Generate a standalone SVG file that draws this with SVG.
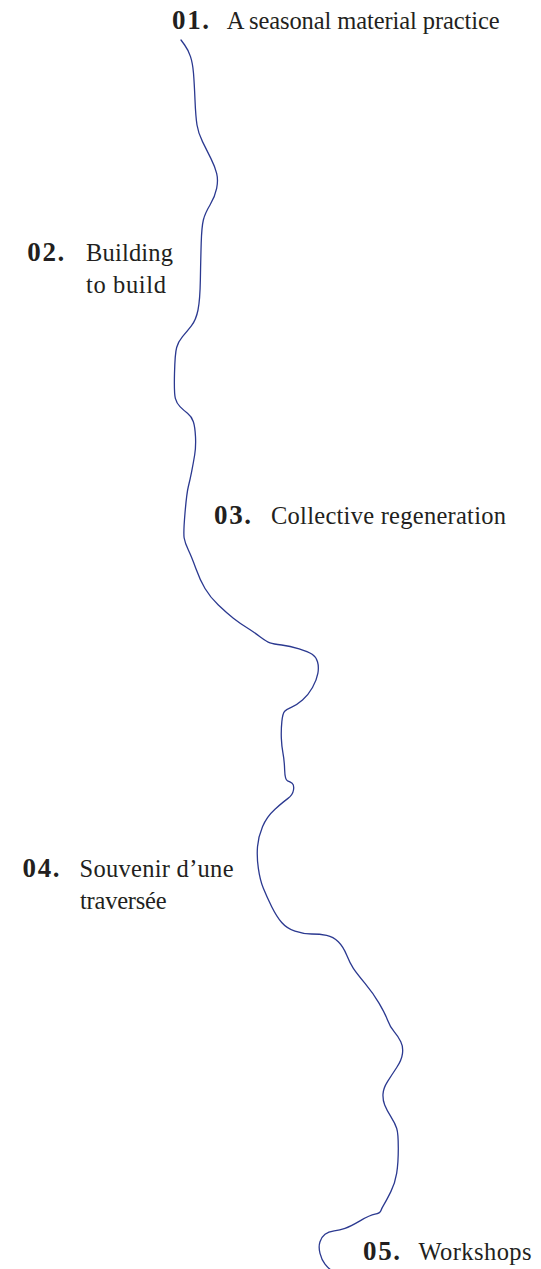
<svg xmlns="http://www.w3.org/2000/svg" width="541" height="1269" viewBox="0 0 541 1269">
<style>
.num{font-family:"Liberation Serif","Times New Roman",serif;font-weight:bold;font-size:27px;fill:#231f20}
.lbl{font-family:"Liberation Serif","Times New Roman",serif;font-size:24.5px;fill:#231f20}
.river{fill:none;stroke:#2b3990;stroke-width:1.3;stroke-linecap:round;stroke-linejoin:round}
</style>
<rect width="541" height="1269" fill="#ffffff"/>
<g id="connectors">
<path class="river" d="M181,40 L184.65,45 Q188.3,50 190.5,56.65 Q192.7,63.3 193.5,73.3 Q194.3,83.3 195,100 Q195.7,116.7 197,125 Q198.3,133.3 202.5,141.65 Q206.7,150 210.85,158.35 Q215,166.7 216.65,173.35 Q218.3,180 216.65,188.35 Q215,196.7 210,205 Q205,213.3 203.35,220 Q201.7,226.7 201.2,243.35 Q200.7,260 200.35,280 Q200,300 198,310 Q196,320 191.35,325.85 Q186.7,331.7 182.5,336.7 Q178.3,341.7 176.65,347.5 Q175,353.3 174.5,373.3 Q174,393.3 175.35,398.3 Q176.7,403.3 180,406.65 Q183.3,410 187.5,413.35 Q191.7,416.7 193.35,421.7 Q195,426.7 195.5,436.7 Q196,446.7 194.65,455 Q193.3,463.3 191.65,471.65 Q190,480 188.35,486.5 Q186.7,493 185,513 Q183.3,533 184.15,538 Q185,543 188.35,550 Q191.7,557 195.85,568.5 Q200,580 205,588.5 Q210,597 218.35,605 Q226.7,613 233.35,618.15 Q240,623.3 246.65,627.5 Q253.3,631.7 260,636.7 Q266.7,641.7 270,642.85 Q273.3,644 281.65,645 Q290,646 299.15,648.85 Q308.3,651.7 312.15,654.2 Q316,656.7 317.5,661.7 Q319,666.7 317.85,673.35 Q316.7,680 312.5,687.5 Q308.3,695 302.5,700 Q296.7,705 291.7,707.15 Q286.7,709.3 284.7,711.3 Q282.7,713.3 281.85,721.65 Q281,730 281.35,738.35 Q281.7,746.7 283,753.35 Q284.3,760 284.65,770 Q285,780 287.5,780.85 Q290,781.7 292.15,783.35 Q294.3,785 293.5,790 Q292.7,795 288,798.35 Q283.3,801.7 275,809.2 Q266.7,816.7 262.5,826.7 Q258.3,836.7 257.5,846.7 Q256.7,856.7 258.35,868.35 Q260,880 263.35,888.35 Q266.7,896.7 271.7,906.7 Q276.7,916.7 281.7,922.5 Q286.7,928.3 295,931.15 Q303.3,934 311.65,934 Q320,934 326.65,935.35 Q333.3,936.7 338.3,941.7 Q343.3,946.7 346.65,955 Q350,963.3 353.35,968.3 Q356.7,973.3 365,983.3 Q373.3,993.3 379.15,1003.3 Q385,1013.3 387.5,1020 Q390,1026.7 394.15,1031.7 Q398.3,1036.7 400.8,1041.7 Q403.3,1046.7 402.5,1053.35 Q401.7,1060 396.7,1067.5 Q391.7,1075 387.5,1081.65 Q383.3,1088.3 383,1094.15 Q382.7,1100 384.7,1105 Q386.7,1110 390.85,1116.65 Q395,1123.3 396.65,1128.3 Q398.3,1133.3 398.3,1148.3 Q398.3,1163.3 396.65,1173.3 Q395,1183.3 390.85,1191.65 Q386.7,1200 384.2,1204.15 Q381.7,1208.3 380.85,1210.8 Q380,1213.3 375,1214.15 Q370,1215 360,1220.85 Q350,1226.7 345,1228.35 Q340,1230 334.15,1230.85 Q328.3,1231.7 325,1234.2 Q321.7,1236.7 320,1241.7 Q318.3,1246.7 320,1253.35 Q321.7,1260 325,1264.15 Q328.3,1268.3 331,1270"/>
</g>
<g id="node-01">
<text class="num" x="172" y="28.5" textLength="37">01.</text>
<text class="lbl" x="226.7" y="28.5" textLength="273">A seasonal material practice</text>
</g>
<g id="node-02">
<text class="num" x="27.3" y="261" textLength="37">02.</text>
<text class="lbl" x="86" y="261" textLength="87">Building</text>
<text class="lbl" x="86" y="293" textLength="80">to build</text>
</g>
<g id="node-03">
<text class="num" x="214" y="523.5" textLength="37">03.</text>
<text class="lbl" x="271" y="523.5" textLength="235">Collective regeneration</text>
</g>
<g id="node-04">
<text class="num" x="22.5" y="876.5" textLength="37">04.</text>
<text class="lbl" x="79.5" y="876.5" textLength="154">Souvenir d’une</text>
<text class="lbl" x="80" y="908.5" textLength="86.5">traversée</text>
</g>
<g id="node-05">
<text class="num" x="363" y="1260" textLength="37">05.</text>
<text class="lbl" x="418.5" y="1260" textLength="113">Workshops</text>
</g>
</svg>
